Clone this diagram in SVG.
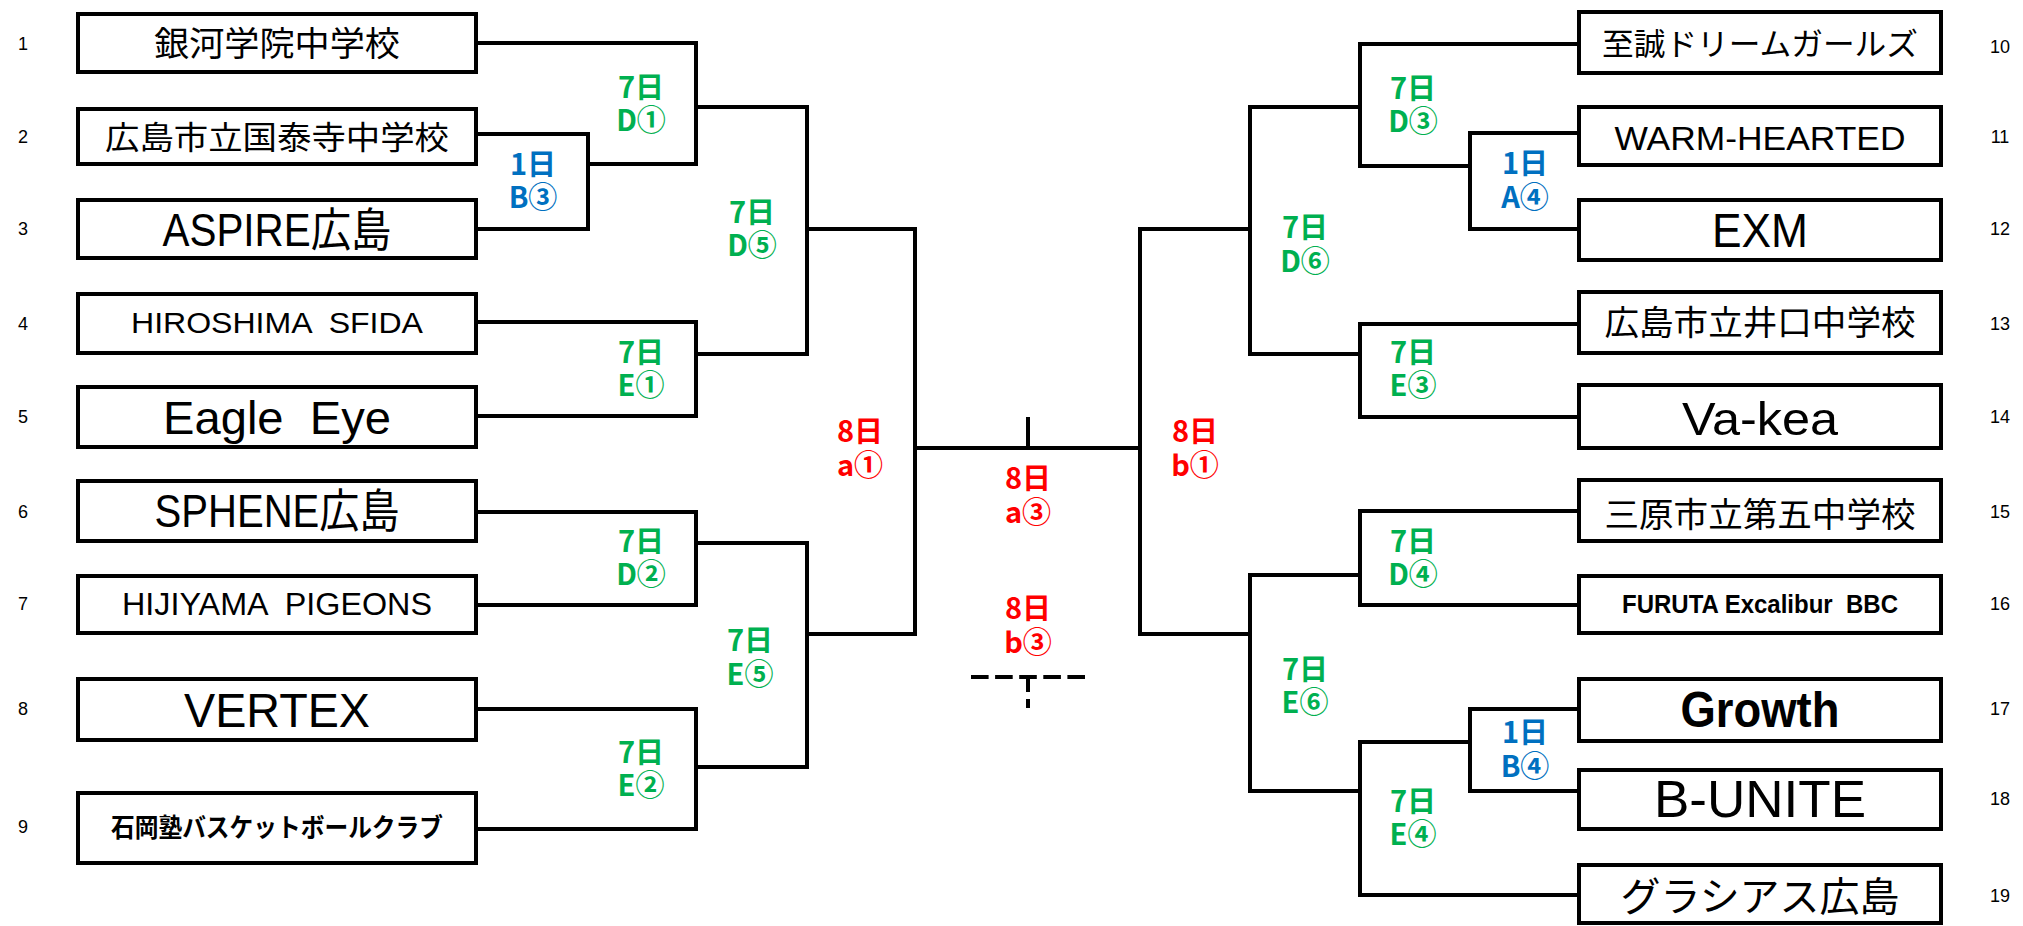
<svg xmlns="http://www.w3.org/2000/svg" width="2023" height="926" viewBox="0 0 2023 926">
<defs>
<style>
.box{fill:#fff;stroke:#000;stroke-width:4}
.t{font-family:"Liberation Sans","Noto Sans CJK JP",sans-serif;text-anchor:middle;fill:#000}
.b{font-weight:bold}
.n{font-family:"Liberation Sans Narrow","Liberation Sans",sans-serif;font-size:18px;text-anchor:middle;fill:#000}
.ln{fill:none;stroke:#000;stroke-width:4;stroke-linejoin:miter;stroke-linecap:butt}
.dash{fill:none;stroke:#000;stroke-width:4}
.lb{font-family:"Noto Sans CJK JP","Liberation Sans",sans-serif;font-weight:bold;font-size:29px;text-anchor:middle}
.g{fill:#00B050}.bl{fill:#0070C0}.r{fill:#FF0000}
</style>
</defs>
<rect width="2023" height="926" fill="#fff"/>

<g id="connectors">
<path class="ln" d="M478 134H588V229H478"/>
<path class="ln" d="M478 43H696V164H588"/>
<path class="ln" d="M478 322H696V416H478"/>
<path class="ln" d="M696 107H807V354H696"/>
<path class="ln" d="M807 229H915V634H807"/>
<path class="ln" d="M478 512H696V605H478"/>
<path class="ln" d="M478 709H696V829H478"/>
<path class="ln" d="M696 543H807V767H696"/>
<path class="ln" d="M915 448H1140"/>
<path class="ln" d="M1028 417V448"/>
<path class="ln" d="M1250 229H1140V634H1250"/>
<path class="ln" d="M1578 44H1360V166H1470"/>
<path class="ln" d="M1578 133H1470V229H1578"/>
<path class="ln" d="M1578 324H1360V417H1578"/>
<path class="ln" d="M1360 107H1250V354H1360"/>
<path class="ln" d="M1578 511H1360V605H1578"/>
<path class="ln" d="M1578 709H1470V791H1578"/>
<path class="ln" d="M1470 742H1360V895H1578"/>
<path class="ln" d="M1360 575H1250V791H1360"/>
<path class="dash" d="M971 677H1085" stroke-dasharray="17.6 6.5"/>
<path class="dash" d="M1028 677V708" stroke-dasharray="15 7"/>
</g>

<g id="match-labels">
<text class="lb g" y="98"><tspan x="641">7日</tspan><tspan x="641" dy="33">D①</tspan></text>
<text class="lb bl" y="175"><tspan x="533">1日</tspan><tspan x="533" dy="33">B③</tspan></text>
<text class="lb g" y="363"><tspan x="641">7日</tspan><tspan x="641" dy="33">E①</tspan></text>
<text class="lb g" y="223"><tspan x="752">7日</tspan><tspan x="752" dy="33">D⑤</tspan></text>
<text class="lb g" y="552"><tspan x="641">7日</tspan><tspan x="641" dy="33">D②</tspan></text>
<text class="lb g" y="651"><tspan x="750">7日</tspan><tspan x="750" dy="34">E⑤</tspan></text>
<text class="lb g" y="763"><tspan x="641">7日</tspan><tspan x="641" dy="33">E②</tspan></text>
<text class="lb r" y="442"><tspan x="860">8日</tspan><tspan x="860" dy="34">a①</tspan></text>
<text class="lb r" y="489"><tspan x="1028">8日</tspan><tspan x="1028" dy="34">a③</tspan></text>
<text class="lb r" y="619"><tspan x="1028">8日</tspan><tspan x="1028" dy="34">b③</tspan></text>
<text class="lb r" y="442"><tspan x="1195">8日</tspan><tspan x="1195" dy="34">b①</tspan></text>
<text class="lb g" y="99"><tspan x="1413">7日</tspan><tspan x="1413" dy="33">D③</tspan></text>
<text class="lb bl" y="174"><tspan x="1525">1日</tspan><tspan x="1525" dy="34">A④</tspan></text>
<text class="lb g" y="238"><tspan x="1305">7日</tspan><tspan x="1305" dy="34">D⑥</tspan></text>
<text class="lb g" y="363"><tspan x="1413">7日</tspan><tspan x="1413" dy="33">E③</tspan></text>
<text class="lb g" y="552"><tspan x="1413">7日</tspan><tspan x="1413" dy="33">D④</tspan></text>
<text class="lb g" y="680"><tspan x="1305">7日</tspan><tspan x="1305" dy="33">E⑥</tspan></text>
<text class="lb bl" y="743"><tspan x="1525">1日</tspan><tspan x="1525" dy="34">B④</tspan></text>
<text class="lb g" y="812"><tspan x="1413">7日</tspan><tspan x="1413" dy="33">E④</tspan></text>
</g>

<g id="team-1"><rect class="box" x="78" y="14" width="398" height="58"/><text class="t" x="277" y="56" font-size="34" textLength="246" lengthAdjust="spacingAndGlyphs">銀河学院中学校</text><text class="n" x="23" y="50">1</text></g>
<g id="team-2"><rect class="box" x="78" y="109" width="398" height="55"/><text class="t" x="277" y="149" font-size="32" textLength="344" lengthAdjust="spacingAndGlyphs">広島市立国泰寺中学校</text><text class="n" x="23" y="143">2</text></g>
<g id="team-3"><rect class="box" x="78" y="200" width="398" height="58"/><text class="t" x="277" y="246" font-size="46" textLength="229" lengthAdjust="spacingAndGlyphs">ASPIRE広島</text><text class="n" x="23" y="235">3</text></g>
<g id="team-4"><rect class="box" x="78" y="294" width="398" height="59"/><text class="t" x="277" y="333" font-size="30" textLength="292" lengthAdjust="spacingAndGlyphs" xml:space="preserve">HIROSHIMA  SFIDA</text><text class="n" x="23" y="330">4</text></g>
<g id="team-5"><rect class="box" x="78" y="387" width="398" height="60"/><text class="t" x="277" y="434" font-size="46" textLength="228" lengthAdjust="spacingAndGlyphs" xml:space="preserve">Eagle  Eye</text><text class="n" x="23" y="423">5</text></g>
<g id="team-6"><rect class="box" x="78" y="481" width="398" height="60"/><text class="t" x="277" y="527" font-size="46" textLength="245" lengthAdjust="spacingAndGlyphs">SPHENE広島</text><text class="n" x="23" y="518">6</text></g>
<g id="team-7"><rect class="box" x="78" y="576" width="398" height="57"/><text class="t" x="277" y="615" font-size="31" textLength="310" lengthAdjust="spacingAndGlyphs" xml:space="preserve">HIJIYAMA  PIGEONS</text><text class="n" x="23" y="610">7</text></g>
<g id="team-8"><rect class="box" x="78" y="679" width="398" height="61"/><text class="t" x="277" y="727" font-size="48" textLength="186" lengthAdjust="spacingAndGlyphs">VERTEX</text><text class="n" x="23" y="715">8</text></g>
<g id="team-9"><rect class="box" x="78" y="793" width="398" height="70"/><text class="t b" x="277" y="837" font-size="26" textLength="332" lengthAdjust="spacingAndGlyphs">石岡塾バスケットボールクラブ</text><text class="n" x="23" y="833">9</text></g>

<g id="team-10"><rect class="box" x="1579" y="12" width="362" height="61"/><text class="t" x="1760" y="55" font-size="31" textLength="316" lengthAdjust="spacingAndGlyphs">至誠ドリームガールズ</text><text class="n" x="2000" y="53">10</text></g>
<g id="team-11"><rect class="box" x="1579" y="107" width="362" height="58"/><text class="t" x="1760" y="150" font-size="34" textLength="291" lengthAdjust="spacingAndGlyphs">WARM-HEARTED</text><text class="n" x="2000" y="143">11</text></g>
<g id="team-12"><rect class="box" x="1579" y="200" width="362" height="60"/><text class="t" x="1760" y="247" font-size="48" textLength="96" lengthAdjust="spacingAndGlyphs">EXM</text><text class="n" x="2000" y="235">12</text></g>
<g id="team-13"><rect class="box" x="1579" y="292" width="362" height="61"/><text class="t" x="1760" y="335" font-size="34" textLength="311" lengthAdjust="spacingAndGlyphs">広島市立井口中学校</text><text class="n" x="2000" y="330">13</text></g>
<g id="team-14"><rect class="box" x="1579" y="385" width="362" height="63"/><text class="t" x="1760" y="435" font-size="46" textLength="156" lengthAdjust="spacingAndGlyphs">Va-kea</text><text class="n" x="2000" y="423">14</text></g>
<g id="team-15"><rect class="box" x="1579" y="480" width="362" height="61"/><text class="t" x="1760" y="527" font-size="34" textLength="311" lengthAdjust="spacingAndGlyphs">三原市立第五中学校</text><text class="n" x="2000" y="518">15</text></g>
<g id="team-16"><rect class="box" x="1579" y="576" width="362" height="57"/><text class="t b" x="1760" y="613" font-size="26" textLength="276" lengthAdjust="spacingAndGlyphs" xml:space="preserve">FURUTA Excalibur  BBC</text><text class="n" x="2000" y="610">16</text></g>
<g id="team-17"><rect class="box" x="1579" y="679" width="362" height="62"/><text class="t b" x="1760" y="727" font-size="50" textLength="159" lengthAdjust="spacingAndGlyphs">Growth</text><text class="n" x="2000" y="715">17</text></g>
<g id="team-18"><rect class="box" x="1579" y="770" width="362" height="59"/><text class="t" x="1760" y="817" font-size="52" textLength="212" lengthAdjust="spacingAndGlyphs">B-UNITE</text><text class="n" x="2000" y="805">18</text></g>
<g id="team-19"><rect class="box" x="1579" y="865" width="362" height="58"/><text class="t" x="1760" y="911" font-size="40" textLength="279" lengthAdjust="spacingAndGlyphs">グラシアス広島</text><text class="n" x="2000" y="902">19</text></g>
</svg>
